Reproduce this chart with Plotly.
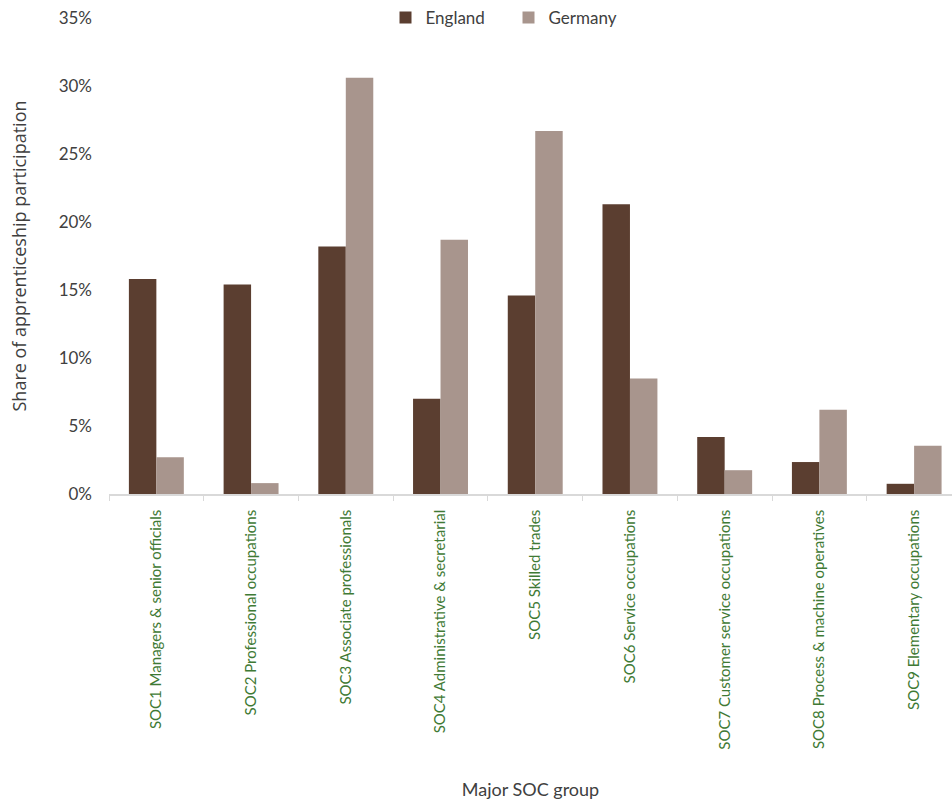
import plotly.graph_objects as go

categories = [
    "SOC1 Managers & senior officials",
    "SOC2 Professional occupations",
    "SOC3 Associate professionals",
    "SOC4 Administrative & secretarial",
    "SOC5 Skilled trades",
    "SOC6 Service occupations",
    "SOC7 Customer service occupations",
    "SOC8 Process & machine operatives",
    "SOC9 Elementary occupations",
]
england = [15.8, 15.4, 18.2, 7.0, 14.6, 21.3, 4.2, 2.35, 0.75]
germany = [2.7, 0.8, 30.6, 18.7, 26.7, 8.5, 1.75, 6.2, 3.55]
y_ticks = [0, 5, 10, 15, 20, 25, 30, 35]

label_font = "Lato, 'Noto Sans', sans-serif"

fig = go.Figure()
fig.add_trace(go.Bar(name="England", x=categories, y=england,
                     marker=dict(color="#5b3e30", line=dict(width=0))))
fig.add_trace(go.Bar(name="Germany", x=categories, y=germany,
                     marker=dict(color="#a8958d", line=dict(width=0))))

fig.update_layout(
    width=952, height=805,
    margin=dict(l=109, r=0, t=18, b=311),
    paper_bgcolor="white", plot_bgcolor="white",
    barmode="group", bargap=0.42, bargroupgap=0,
    legend=dict(orientation="h", x=0.328, xanchor="left", y=1.0, yanchor="middle",
                font=dict(family=label_font, size=17, color="#404040"),
                itemwidth=30, entrywidth=78, entrywidthmode="pixels",
                traceorder="normal", bgcolor="rgba(0,0,0,0)"),
    font=dict(family=label_font, color="#404040"),
)

fig.update_xaxes(
    range=[-0.5, 8.4], tickangle=-90,
    tickfont=dict(family=label_font, size=15, color="#3f7a35"),
    showline=True, linecolor="#d9d9d9", linewidth=1.5,
    ticks="outside", tickson="boundaries", ticklen=5, tickcolor="#d9d9d9",
    ticklabelstandoff=8,
    showgrid=False,
    title=dict(text="Major SOC group", font=dict(family=label_font, size=18, color="#404040"),
               standoff=35),
)
fig.update_yaxes(
    range=[0, 35], tickvals=y_ticks, ticktext=[f"{v}%" for v in y_ticks],
    tickfont=dict(family=label_font, size=17, color="#404040"),
    showgrid=False, zeroline=False, showline=False,
    ticklabelstandoff=16,
    title=dict(text="Share of apprenticeship participation",
               font=dict(family="'Open Sans', 'Noto Sans', sans-serif", size=18, color="#404040"),
               standoff=27),
)

fig.write_html("out.html")
